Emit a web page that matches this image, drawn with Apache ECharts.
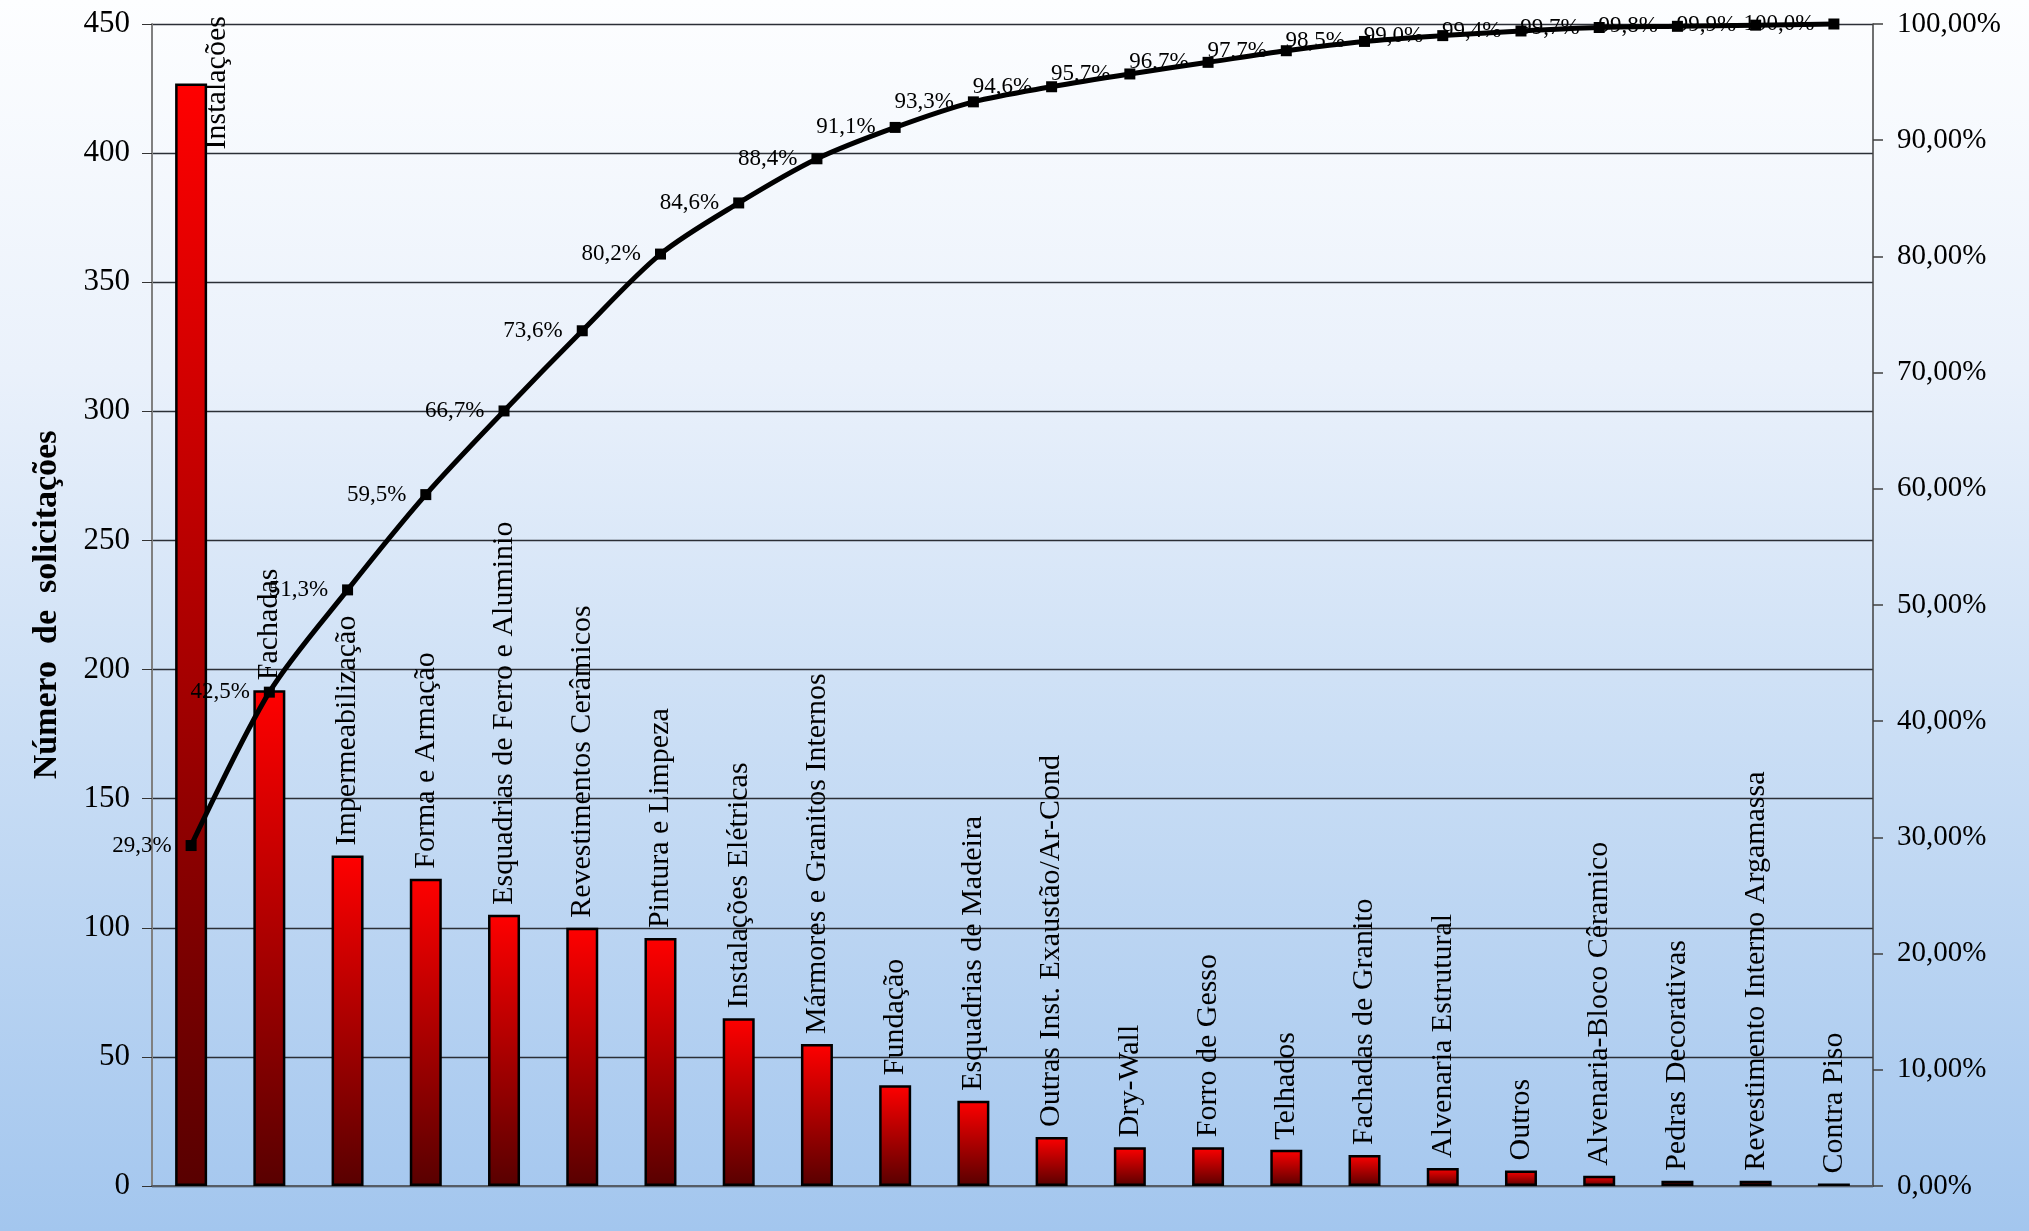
<!DOCTYPE html>
<html>
<head>
<meta charset="utf-8">
<script src="https://cdn.jsdelivr.net/npm/echarts@6/dist/echarts.min.js"></script>
<style>
html,body{margin:0;padding:0;background:#fff;}
#chart{width:2029px;height:1231px;}
</style>
</head>
<body>
<div id="chart"></div>
<script>
const categories = [
  'Instalações', 'Fachadas', 'Impermeabilização', 'Forma e Armação',
  'Esquadrias de Ferro e Aluminio', 'Revestimentos Cerâmicos', 'Pintura e Limpeza',
  'Instalações Elétricas', 'Mármores e Granitos Internos', 'Fundação',
  'Esquadrias de Madeira', 'Outras Inst. Exaustão/Ar-Cond', 'Dry-Wall',
  'Forro de Gesso', 'Telhados', 'Fachadas de Granito', 'Alvenaria Estrutural',
  'Outros', 'Alvenaria-Bloco Cêramico', 'Pedras Decorativas',
  'Revestimento Interno Argamassa', 'Contra Piso'
];
const solicitacoes = [427, 192, 128, 119, 105, 100, 96, 65, 55, 39, 33, 19, 15, 15, 14, 12, 7, 6, 4, 2, 2, 1];
const acumuladoPct = [29.3, 42.5, 51.3, 59.5, 66.7, 73.6, 80.2, 84.6, 88.4, 91.1, 93.3, 94.6, 95.7, 96.7, 97.7, 98.5, 99.0, 99.4, 99.7, 99.8, 99.9, 100.0];
const leftTicks = [0, 50, 100, 150, 200, 250, 300, 350, 400, 450];
const rightTicks = [0, 10, 20, 30, 40, 50, 60, 70, 80, 90, 100];

const FONT = '"Liberation Serif", "Times New Roman", serif';

const barGradient = {
  type: 'linear', x: 0, y: 0, x2: 0, y2: 1,
  colorStops: [
    { offset: 0, color: '#ff0000' },
    { offset: 1, color: '#580000' }
  ]
};

const barData = solicitacoes.map((v, i) => {
  const item = { value: v };
  if (i === 0) {
    item.label = { offset: [-76, 26] };
  }
  return item;
});

const chart = echarts.init(document.getElementById('chart'), null, { renderer: 'canvas' });

chart.setOption({
  backgroundColor: {
    type: 'linear', x: 0, y: 0, x2: 0, y2: 1,
    colorStops: [
      { offset: 0, color: '#fdfeff' },
      { offset: 0.3, color: '#eaf1fb' },
      { offset: 0.6, color: '#cadef5' },
      { offset: 1, color: '#a3c6ee' }
    ]
  },
  animation: false,
  grid: { left: 152, right: 156, top: 24, bottom: 45, containLabel: false },
  xAxis: {
    type: 'category',
    data: categories,
    axisLine: { show: true, lineStyle: { color: '#555c66', width: 2 } },
    axisTick: { show: false },
    axisLabel: { show: false }
  },
  yAxis: [
    {
      type: 'value',
      min: leftTicks[0],
      max: leftTicks[leftTicks.length - 1],
      interval: 50,
      name: 'Número  de  solicitações',
      nameLocation: 'middle',
      nameRotate: 90,
      nameGap: 88,
      nameTextStyle: { fontFamily: FONT, fontSize: 34, fontWeight: 'bold', color: '#000' },
      axisLine: { show: true, lineStyle: { color: '#808080', width: 2 } },
      axisTick: { show: true, inside: false, length: 10, lineStyle: { color: '#333', width: 1 } },
      axisLabel: { fontFamily: FONT, fontSize: 31, color: '#000', margin: 22 },
      splitLine: { show: true, lineStyle: { color: '#2b2f36', width: 1.3 } }
    },
    {
      type: 'value',
      min: rightTicks[0],
      max: rightTicks[rightTicks.length - 1],
      interval: 10,
      position: 'right',
      axisLine: { show: true, lineStyle: { color: '#404040', width: 1.5 } },
      axisTick: { show: true, inside: false, length: 10, lineStyle: { color: '#404040', width: 1.5 } },
      axisLabel: {
        fontFamily: FONT, fontSize: 29, color: '#000', margin: 24,
        formatter: v => v.toFixed(2).replace('.', ',') + '%'
      },
      splitLine: { show: false }
    }
  ],
  series: [
    {
      name: 'Solicitações',
      type: 'bar',
      yAxisIndex: 0,
      data: barData,
      barWidth: 32,
      itemStyle: { color: barGradient, borderColor: '#000', borderWidth: 2.5 },
      label: {
        show: true,
        position: 'top',
        distance: 10,
        rotate: 90,
        align: 'left',
        verticalAlign: 'middle',
        fontFamily: FONT,
        fontSize: 30,
        color: '#000',
        formatter: p => categories[p.dataIndex]
      },
      z: 2
    },
    {
      name: 'Acumulado',
      type: 'line',
      yAxisIndex: 1,
      data: acumuladoPct,
      smooth: 0.3,
      clip: false,
      symbol: 'rect',
      symbolSize: 11,
      lineStyle: { color: '#000', width: 5 },
      itemStyle: { color: '#000' },
      label: {
        show: true,
        position: 'left',
        distance: 14,
        fontFamily: FONT,
        fontSize: 23,
        color: '#000',
        formatter: p => p.value.toFixed(1).replace('.', ',') + '%'
      },
      z: 3
    }
  ]
});
</script>
</body>
</html>
